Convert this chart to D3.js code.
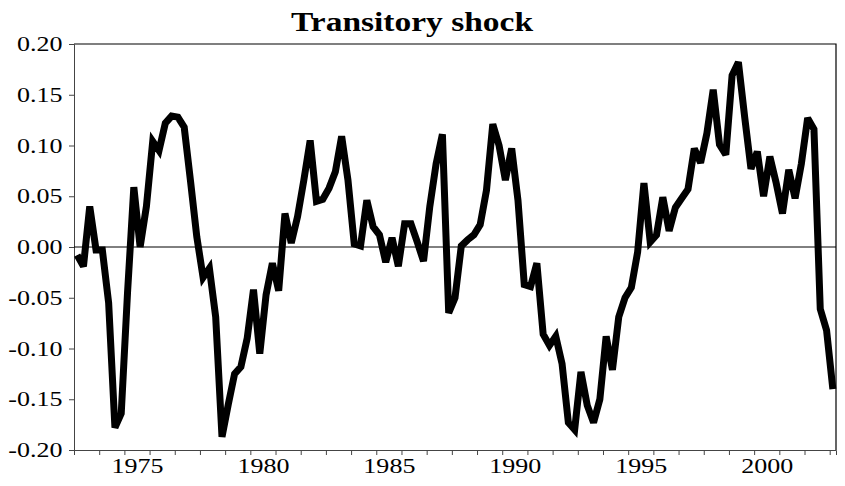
<!DOCTYPE html>
<html>
<head>
<meta charset="utf-8">
<script src="https://cdn.jsdelivr.net/npm/d3@7"></script>
<style>
  body { margin: 0; background: #fff; }
  svg { display: block; }
  svg text { font-family: "Liberation Serif", "DejaVu Serif", serif; }
</style>
</head>
<body>
<svg id="chart" width="845" height="486"></svg>
<script>
// quarterly series, 1973Q1 .. 2003Q1
var firstYear = 1973;
var shock = [
  -0.008, -0.019, 0.040, -0.003, -0.003, -0.055, -0.178, -0.164,
  -0.045, 0.059, 0.000, 0.040, 0.104, 0.095, 0.122, 0.129,
  0.128, 0.118, 0.065, 0.010, -0.030, -0.021, -0.069, -0.187,
  -0.155, -0.125, -0.118, -0.090, -0.042, -0.105, -0.047, -0.016,
  -0.043, 0.033, 0.004, 0.030, 0.066, 0.105, 0.045, 0.047,
  0.058, 0.074, 0.109, 0.066, 0.003, 0.001, 0.046, 0.020,
  0.012, -0.015, 0.009, -0.019, 0.023, 0.023, 0.005, -0.014,
  0.040, 0.082, 0.111, -0.065, -0.050, 0.001, 0.007, 0.012,
  0.022, 0.056, 0.121, 0.100, 0.066, 0.097, 0.046, -0.037,
  -0.039, -0.016, -0.086, -0.097, -0.088, -0.115, -0.173, -0.180,
  -0.123, -0.156, -0.173, -0.150, -0.088, -0.121, -0.069, -0.050,
  -0.040, -0.005, 0.063, 0.005, 0.012, 0.049, 0.016, 0.039,
  0.048, 0.057, 0.097, 0.083, 0.112, 0.155, 0.101, 0.091,
  0.169, 0.182, 0.128, 0.077, 0.094, 0.050, 0.089, 0.063,
  0.033, 0.076, 0.048, 0.082, 0.127, 0.116, -0.061, -0.082,
  -0.140
];
var yTicks = [-0.20, -0.15, -0.10, -0.05, 0.00, 0.05, 0.10, 0.15, 0.20];
var yearLabels = [1975, 1980, 1985, 1990, 1995, 2000];
var yearTicks = d3.range(1973, 2004);

// plot box
var pLeft = 74, pRight = 836, pTop = 44, pBottom = 450;
var stretch = 1.24;   // text in the original is drawn a bit wide

var svg = d3.select("#chart");

var x = d3.scaleLinear().domain([1973, 2003.25]).range([pLeft, pRight]);
var y = d3.scaleLinear().domain([-0.20, 0.20]).range([pBottom, pTop]);

// title
svg.append("text")
  .attr("transform", "translate(412,31) scale(" + stretch + ",1)")
  .attr("text-anchor", "middle")
  .style("font-size", "27px")
  .style("font-weight", "bold")
  .text("Transitory shock");

// frame (top and right)
svg.append("path")
  .attr("d", "M" + pLeft + "," + pTop + "H" + pRight + "V" + pBottom)
  .attr("fill", "none")
  .attr("stroke", "#000")
  .attr("stroke-width", 1.2);

// y axis
var yAxis = svg.append("g")
  .attr("transform", "translate(" + pLeft + ",0)")
  .call(d3.axisLeft(y).tickValues(yTicks).tickSize(5)
    .tickFormat(function(d) { return d3.format(".2f")(d).replace("\u2212", "-"); }));
yAxis.selectAll("text")
  .attr("x", -11.5 / stretch)
  .attr("transform", "scale(" + stretch + ",1)")
  .style("font-size", "21px")
  .attr("fill", "#000");
yAxis.selectAll("line, path").attr("stroke", "#444");

// x axis: ticks at year starts, labels centred in the year
var xAxis = svg.append("g")
  .attr("transform", "translate(0," + pBottom + ")")
  .call(d3.axisBottom(x).tickValues(yearTicks).tickSize(5).tickFormat(""));
xAxis.selectAll("line, path").attr("stroke", "#444");

var xLabels = svg.append("g")
  .attr("transform", "translate(0," + pBottom + ")")
  .call(d3.axisBottom(x).tickValues(yearLabels.map(function(d) { return d + 0.5; }))
    .tickSize(0).tickPadding(8).tickFormat(function(d) { return String(Math.floor(d)); }));
xLabels.select(".domain").remove();
xLabels.selectAll("text")
  .attr("transform", "scale(" + stretch + ",1)")
  .style("font-size", "21px")
  .attr("fill", "#000");

// zero line
svg.append("line")
  .attr("x1", pLeft).attr("x2", pRight)
  .attr("y1", y(0)).attr("y2", y(0))
  .attr("stroke", "#000")
  .attr("stroke-width", 1);

// the series
var line = d3.line()
  .x(function(d, i) { return x(firstYear + i / 4 + 0.125); })
  .y(function(d) { return y(d); });

svg.append("path")
  .datum(shock)
  .attr("d", line)
  .attr("fill", "none")
  .attr("stroke", "#000")
  .attr("stroke-width", 7)
  .attr("stroke-linejoin", "miter")
  .attr("stroke-miterlimit", 3);
</script>
</body>
</html>
